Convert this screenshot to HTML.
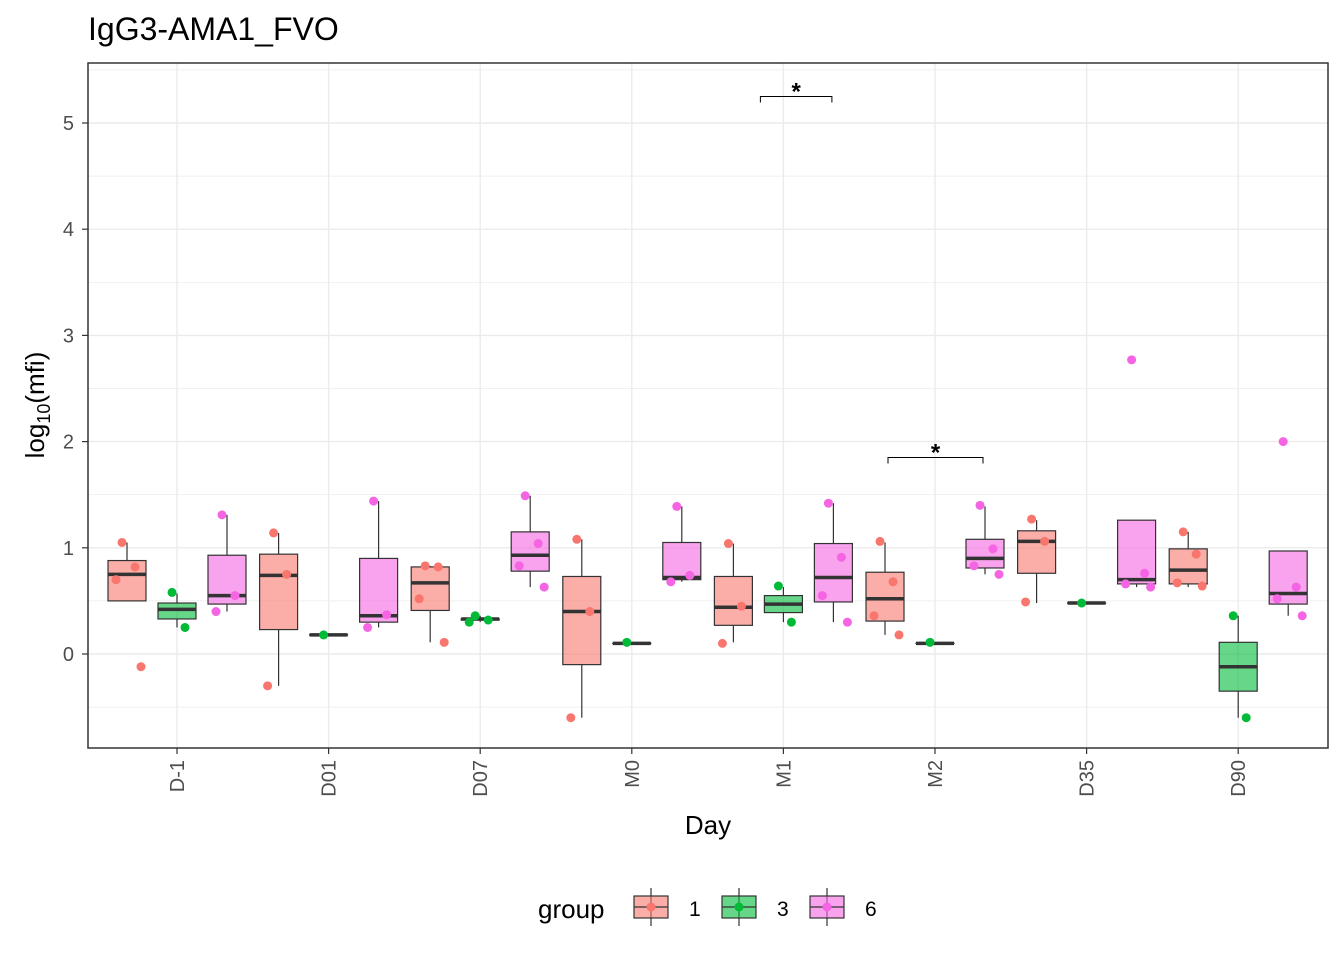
<!DOCTYPE html>
<html><head><meta charset="utf-8"><style>
body{margin:0;background:#fff;font-family:"Liberation Sans",Arial,sans-serif}
svg text{font-family:"Liberation Sans",Arial,sans-serif}
</style></head><body>
<svg id="chart" width="1344" height="960">
<text x="88" y="40" font-size="32" fill="#000">IgG3-AMA1_FVO</text>
<g id="grid"></g>
<g id="marks"></g>
<rect x="88" y="63" width="1240" height="685" fill="none" stroke="#333" stroke-width="1.5"/>
<g id="axes"></g>
<text x="708" y="834" font-size="26" text-anchor="middle">Day</text>
<text transform="translate(44,405) rotate(-90)" font-size="26" text-anchor="middle">log<tspan font-size="18" dy="6">10</tspan><tspan dy="-6">(mfi)</tspan></text>
<g id="sig"></g>
<g id="legend"></g>
</svg>
<script>
const categories=["D-1","D01","D07","M0","M1","M2","D35","D90"];
const groups=["1","3","6"];
const groupColors=["#F8766D","#00BA38","#F564E3"];
const yTicks=[0,1,2,3,4,5];
// stats per [category][group]: [lo,q1,med,q3,hi]
const boxStats=[
 [[0.5,0.5,0.75,0.88,1.05],[0.25,0.33,0.42,0.48,0.57],[0.40,0.47,0.55,0.93,1.31]],
 [[-0.3,0.23,0.74,0.94,1.14],[0.18,0.18,0.18,0.18,0.18],[0.25,0.3,0.36,0.9,1.44]],
 [[0.11,0.41,0.67,0.82,0.83],[0.3,0.32,0.33,0.33,0.36],[0.63,0.78,0.93,1.15,1.49]],
 [[-0.6,-0.1,0.4,0.73,1.08],[0.1,0.1,0.1,0.1,0.1],[0.68,0.7,0.72,1.05,1.39]],
 [[0.11,0.27,0.44,0.73,1.04],[0.3,0.39,0.47,0.55,0.63],[0.3,0.49,0.72,1.04,1.42]],
 [[0.18,0.31,0.52,0.77,1.05],[0.1,0.1,0.1,0.1,0.1],[0.75,0.81,0.9,1.08,1.39]],
 [[0.48,0.76,1.06,1.16,1.26],[0.48,0.48,0.48,0.48,0.48],[0.63,0.66,0.7,1.26,1.26]],
 [[0.63,0.66,0.79,0.99,1.15],[-0.6,-0.35,-0.12,0.11,0.36],[0.36,0.47,0.57,0.97,0.97]]
];
const points=[
 [[1.05,0.82,0.7,-0.12],[0.58,0.25],[1.31,0.55,0.40]],
 [[1.14,0.75,-0.3],[0.18],[1.44,0.37,0.25]],
 [[0.83,0.82,0.52,0.11],[0.36,0.32,0.3],[1.49,1.04,0.83,0.63]],
 [[1.08,0.4,-0.6],[0.11],[1.39,0.74,0.68]],
 [[1.04,0.45,0.1],[0.64,0.3],[1.42,0.91,0.55,0.3]],
 [[1.06,0.68,0.36,0.18],[0.11],[1.4,0.99,0.83,0.75]],
 [[1.27,1.06,0.49],[0.48],[2.77,0.76,0.66,0.63]],
 [[1.15,0.94,0.67,0.64],[0.36,-0.6],[2.0,0.63,0.52,0.36]]
];
// [category, from (group units), to (group units), y value]
const sigPairs=[["M1",-0.46,0.97,5.25],["M2",-0.94,0.96,1.85]];
const NS="http://www.w3.org/2000/svg";
const y=v=>654-v*106.2;
const x=i=>177+i*151.6;
const gx=g=>(g-1)*50;
function mk(parent,tag,attrs){const e=document.createElementNS(NS,tag);for(const k in attrs)e.setAttribute(k,attrs[k]);document.getElementById(parent).appendChild(e);return e;}
for(let v=-0.5;v<=5.5;v+=0.5){const yy=y(v);if(yy<63||yy>748)continue;
 const l=mk("grid","line",{x1:88,x2:1328,y1:yy,y2:yy,stroke:"#ebebeb","stroke-width":Number.isInteger(v)?1.4:0.7});
 }
categories.forEach((c,i)=>{const l=mk("grid","line",{x1:x(i),x2:x(i),y1:63,y2:748,stroke:"#ebebeb","stroke-width":1.4});
 });
yTicks.forEach(v=>{const t=mk("axes","text",{x:74,y:y(v)+7,"font-size":20,"text-anchor":"end",fill:"#4d4d4d"});t.textContent=v;
 
 const l=mk("axes","line",{x1:82,x2:88,y1:y(v),y2:y(v),stroke:"#333","stroke-width":1.2});
 });
categories.forEach((c,i)=>{const t=mk("axes","text",{transform:`translate(${x(i)+7},760) rotate(-90)`,"font-size":20,"text-anchor":"end",fill:"#4d4d4d"});t.textContent=c;
 
 const l=mk("axes","line",{x1:x(i),x2:x(i),y1:748,y2:754,stroke:"#333","stroke-width":1.2});
 });
boxStats.forEach((row,i)=>row.forEach((s,g)=>{const cx=x(i)+gx(g);
 const w1=mk("marks","line",{x1:cx,x2:cx,y1:y(s[4]),y2:y(s[3]),stroke:"#333","stroke-width":1.2});
 
 const w2=mk("marks","line",{x1:cx,x2:cx,y1:y(s[1]),y2:y(s[0]),stroke:"#333","stroke-width":1.2});
 
 const r=mk("marks","rect",{x:cx-19,y:y(s[3]),width:38,height:Math.max(0.1,y(s[1])-y(s[3])),fill:groupColors[g],"fill-opacity":0.6,stroke:"#333","stroke-width":1.2});
 
 const m=mk("marks","line",{x1:cx-19,x2:cx+19,y1:y(s[2]),y2:y(s[2]),stroke:"#333","stroke-width":3.5});
 }));
points.forEach((row,i)=>row.forEach((ps,g)=>ps.forEach((v,k)=>{const cx=x(i)+gx(g)+((k%2?1:-1)*(5+3*k));
 const c=mk("marks","circle",{cx:cx,cy:y(v),r:4.5,fill:groupColors[g]});
 })));
sigPairs.forEach(p=>{const i=categories.indexOf(p[0]);const x1=x(i)+p[1]*50,x2=x(i)+p[2]*50,yy=y(p[3]);
 const b=mk("sig","path",{d:`M${x1},${yy+6}V${yy}H${x2}V${yy+6}`,fill:"none",stroke:"#000","stroke-width":1});
 
 const t=mk("sig","text",{x:(x1+x2)/2,y:yy+3,"font-size":24,"font-weight":"bold","text-anchor":"middle"});t.textContent="*";
 });
const lt=mk("legend","text",{x:538,y:918,"font-size":26});lt.textContent="group";

groups.forEach((g,k)=>{const lx=634+k*88;
 const gg=mk("legend","g",{});
 gg.innerHTML=`<line x1="${lx+17}" x2="${lx+17}" y1="888" y2="926" stroke="#333" stroke-width="1.2"/><rect x="${lx}" y="896" width="34" height="22" fill="${groupColors[k]}" fill-opacity="0.6" stroke="#333" stroke-width="1.2"/><line x1="${lx}" x2="${lx+34}" y1="907" y2="907" stroke="#333" stroke-width="1.2"/><circle cx="${lx+17}" cy="907" r="4.5" fill="${groupColors[k]}"/><text x="${lx+55}" y="916" font-size="21">${g}</text>`;});
</script>
</body></html>
